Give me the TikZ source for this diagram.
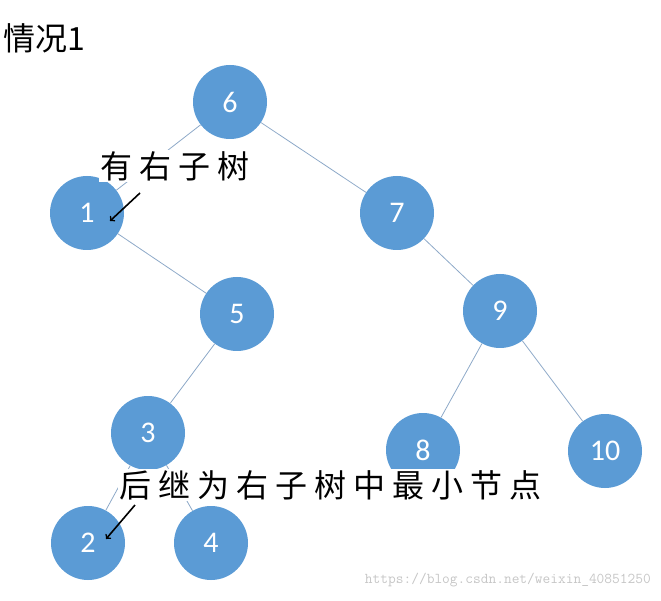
\documentclass[tikz,border=0pt]{standalone}
\usepackage{fontspec}
\setmainfont{Carlito}
\newfontfamily\cjk{Noto Sans CJK SC}
\newfontfamily\cjkwide[LetterSpace=22]{Noto Sans CJK SC}
\usetikzlibrary{arrows}
\definecolor{nodeblue}{HTML}{5B9BD5}
\definecolor{edgeblue}{HTML}{8EA9C8}
\begin{document}
\begin{tikzpicture}[x=1pt,y=-1pt,
  tnode/.style={circle, fill=nodeblue, minimum size=74pt, inner sep=0pt,
    text=white, font=\fontsize{30}{32}\selectfont},
  edge/.style={draw=edgeblue, line width=0.8pt},
  note/.style={font=\cjkwide\fontsize{32}{34}\selectfont, anchor=west, inner sep=1pt, fill=white},
  pointer/.style={-to, line width=1.6pt},
]
\useasboundingbox (0,0) rectangle (661,601);

\node[tnode] (n6) at (230,102) {6};
\node[tnode] (n1) at (87,213) {1};
\node[tnode] (n7) at (397,213) {7};
\node[tnode] (n5) at (237,314) {5};
\node[tnode] (n9) at (500,311) {9};
\node[tnode] (n3) at (148,433) {3};
\node[tnode] (n8) at (423,450) {8};
\node[tnode] (n10) at (605,451) {10};
\node[tnode] (n2) at (88,543) {2};
\node[tnode] (n4) at (211,543) {4};

\draw[edge] (n6) -- (n1);
\draw[edge] (n6) -- (n7);
\draw[edge] (n1) -- (n5);
\draw[edge] (n7) -- (n9);
\draw[edge] (n5) -- (n3);
\draw[edge] (n9) -- (n8);
\draw[edge] (n9) -- (n10);
\draw[edge] (n3) -- (n2);
\draw[edge] (n3) -- (n4);

\node[anchor=west, inner sep=0pt, font=\cjk\fontsize{32}{34}\selectfont] (title) at (3,38) {情况1};
\node[note] (lbl1) at (99,166) {有右子树};
\node[note] (lbl2) at (118,485) {后继为右子树中最小节点};
\coordinate (p1) at (140,193);
\coordinate (q1) at (110,221);
\coordinate (p2) at (135,505);
\coordinate (q2) at (106,539);
\draw[pointer] (p1) -- (q1);
\draw[pointer] (p2) -- (q2);

\node[anchor=east, inner sep=0pt, text=gray!45, font=\ttfamily\fontsize{15}{17}\selectfont] (wm) at (651,580) {https://blog.csdn.net/weixin\_40851250};
\end{tikzpicture}
\end{document}
